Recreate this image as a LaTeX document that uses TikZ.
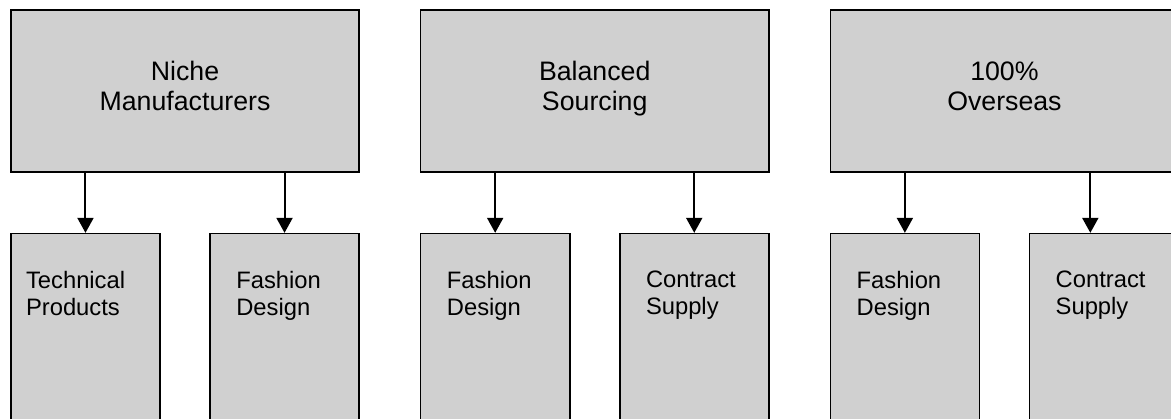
\documentclass[tikz,border=0pt]{standalone}
\usepackage{fontspec}
\setmainfont{Liberation Sans}
\usetikzlibrary{arrows.meta, positioning}
\definecolor{boxgray}{RGB}{208,208,208}

\begin{document}
\begin{tikzpicture}[
    x=0.025cm, y=-0.025cm,
    strategy/.style={rectangle, draw=black, fill=boxgray, line width=0.04cm,
                  minimum width=8.7cm, minimum height=4.05cm, align=center,
                  text depth=0.25cm, font=\fontsize{19}{21.3}\selectfont},
    segment/.style={rectangle, draw=black, fill=boxgray, line width=0.04cm,
                  minimum width=3.725cm, minimum height=5cm},
    segtext/.style={anchor=north west, inner sep=0pt, align=left,
                  font=\fontsize{16.9}{19.2}\selectfont},
    link/.style={-{Triangle[length=0.375cm, width=0.4cm]}, line width=0.05cm}
]
\useasboundingbox (0,0) rectangle (1171,419);
\clip (0,0) rectangle (1171,419);

% Sourcing strategies
\node[strategy] (niche) at (185,91) {Niche\\Manufacturers};
\node[strategy, right=1.5cm of niche] (balanced) {Balanced\\Sourcing};
\node[strategy, right=1.5cm of balanced] (overseas) {100\%\\Overseas};

% Segments
\node[segment, below right=1.5cm and 0cm of niche.south west] (tech) {};
\node[segment, below left=1.5cm and 0cm of niche.south east] (fashionA) {};
\node[segment, below right=1.5cm and 0cm of balanced.south west] (fashionB) {};
\node[segment, below left=1.5cm and 0cm of balanced.south east] (supplyB) {};
\node[segment, below right=1.5cm and 0cm of overseas.south west] (fashionC) {};
\node[segment, below left=1.5cm and 0cm of overseas.south east] (supplyC) {};

% Segment labels
\node[segtext] (techlbl) at ([shift={(0.39cm,-0.95cm)}]tech.north west) {Technical\\Products};
\node[segtext] (fashionAlbl) at ([shift={(0.67cm,-0.95cm)}]fashionA.north west) {Fashion\\Design};
\node[segtext] (fashionBlbl) at ([shift={(0.67cm,-0.95cm)}]fashionB.north west) {Fashion\\Design};
\node[segtext] (supplyBlbl) at ([shift={(0.67cm,-0.95cm)}]supplyB.north west) {Contract\\Supply};
\node[segtext] (fashionClbl) at ([shift={(0.67cm,-0.95cm)}]fashionC.north west) {Fashion\\Design};
\node[segtext] (supplyClbl) at ([shift={(0.67cm,-0.95cm)}]supplyC.north west) {Contract\\Supply};

% Links
\coordinate (supplyCin) at ([xshift=-0.34cm]supplyC.north);
\draw[link] (niche.south -| tech.north) -- (tech.north);
\draw[link] (niche.south -| fashionA.north) -- (fashionA.north);
\draw[link] (balanced.south -| fashionB.north) -- (fashionB.north);
\draw[link] (balanced.south -| supplyB.north) -- (supplyB.north);
\draw[link] (overseas.south -| fashionC.north) -- (fashionC.north);
\draw[link] (overseas.south -| supplyCin) -- (supplyCin);

\end{tikzpicture}
\end{document}
